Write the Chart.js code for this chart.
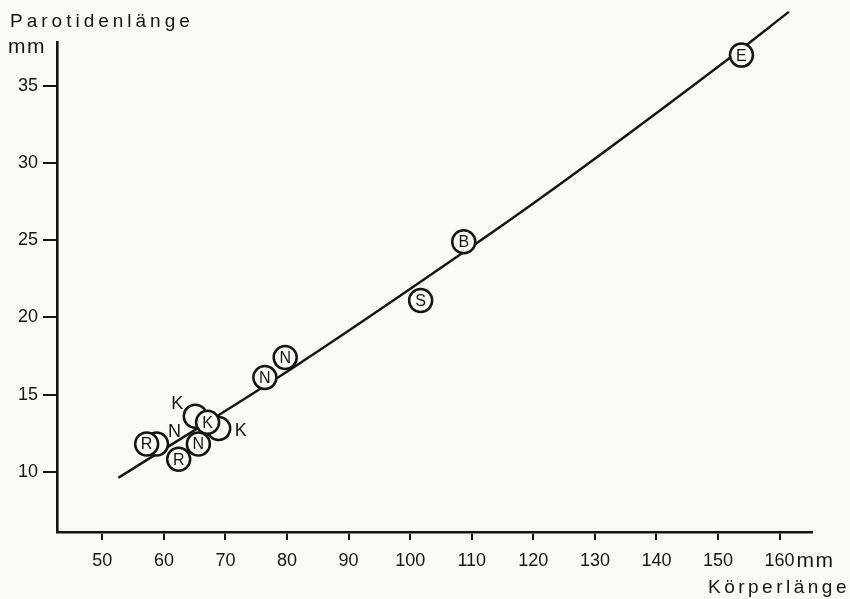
<!DOCTYPE html>
<html>
<head>
<meta charset="utf-8">
<script src="https://cdn.jsdelivr.net/npm/chart.js@4/dist/chart.umd.min.js"></script>
<style>
  html, body { margin: 0; padding: 0; background: #fafaf7; }
  #wrap { width: 850px; height: 599px; position: relative; }
</style>
</head>
<body>
<div id="wrap"><canvas id="chart" width="850" height="599"></canvas></div>
<script>
// tick values on the axes
let xTicks = [50, 60, 70, 80, 90, 100, 110, 120, 130, 140, 150, 160];
let yTicks = [10, 15, 20, 25, 30, 35];

// measured animals (Körperlänge, Parotidenlänge) and their letter
let pointX = [153.8, 108.7, 101.7, 79.7, 76.4, 65.1, 68.9, 67.1, 65.6, 62.4, 58.8, 57.2];
let pointY = [37.0, 24.9, 21.1, 17.4, 16.1, 13.6, 12.8, 13.2, 11.8, 10.8, 11.8, 11.8];
let pointLetter = ["E", "B", "S", "N", "N", "K", "K", "K", "N", "R", "N", "R"];
// where the letter sits: inside the ring or beside it
let letterPlace = ["in", "in", "in", "in", "in", "nw", "e", "in", "in", "in", "ne", "in"];

// regression curve
let curveX = [52.6, 81.6, 108.6, 121.1, 151.5, 161.5];
let curveY = [9.6, 16.9, 24.2, 27.7, 36.7, 39.8];

let ink = "#141414";
let paper = "#fafaf7";

function pairs(xs, ys) {
  let out = [];
  for (let i = 0; i < xs.length; i++) {
    out.push({ x: xs[i], y: ys[i] });
  }
  return out;
}

// draws the letters and the free-standing axis texts
let letterPlugin = {
  id: "letters",
  afterDatasetsDraw(chart) {
    let ctx = chart.ctx;
    let meta = chart.getDatasetMeta(1);
    ctx.save();
    ctx.fillStyle = ink;
    ctx.textAlign = "center";
    ctx.textBaseline = "middle";
    meta.data.forEach((el, i) => {
      let dx = 0, dy = 0;
      if (letterPlace[i] === "nw") { dx = -18; dy = -13; }
      if (letterPlace[i] === "ne") { dx = 18; dy = -13; }
      if (letterPlace[i] === "e") { dx = 22; dy = 2; }
      ctx.font = letterPlace[i] === "in" ? "16px 'Liberation Sans'" : "18px 'Liberation Sans'";
      ctx.fillText(pointLetter[i], el.x + dx, el.y + dy + 1);
    });
    ctx.restore();
  },
  afterDraw(chart) {
    let ctx = chart.ctx;
    let xs = chart.scales.x;
    ctx.save();
    ctx.fillStyle = ink;
    ctx.textBaseline = "middle";
    ctx.textAlign = "left";
    ctx.font = "19px 'Liberation Sans'";
    ctx.letterSpacing = "4px";
    ctx.fillText("Parotidenlänge", 10, 22);
    // the unit is set wider than the rest
    ctx.font = "21px 'Liberation Sans'";
    ctx.letterSpacing = "1.5px";
    ctx.fillText("mm", 8, 47);
    ctx.fillText("mm", xs.getPixelForValue(160) + 17, 561);
    ctx.font = "19px 'Liberation Sans'";
    ctx.letterSpacing = "3.5px";
    ctx.textAlign = "right";
    ctx.fillText("Körperlänge", 850, 588);
    ctx.restore();
  }
};

let ctx = document.getElementById("chart").getContext("2d");
let chart = new Chart(ctx, {
  type: "scatter",
  data: {
    datasets: [
      {
        label: "Kurve",
        data: pairs(curveX, curveY),
        showLine: true,
        borderColor: ink,
        borderWidth: 2.4,
        pointRadius: 0,
        cubicInterpolationMode: "monotone",
        clip: false,
        order: 2
      },
      {
        label: "Tiere",
        data: pairs(pointX, pointY),
        showLine: false,
        pointRadius: 11.5,
        pointBorderWidth: 2.5,
        pointBorderColor: ink,
        pointBackgroundColor: paper,
        order: 1
      }
    ]
  },
  options: {
    responsive: false,
    animation: false,
    layout: { padding: { top: 42, right: 38, bottom: 0, left: 0 } },
    plugins: {
      legend: { display: false },
      tooltip: { enabled: false }
    },
    scales: {
      x: {
        type: "linear",
        min: 42.64,
        max: 165.26,
        afterBuildTicks: s => { s.ticks = xTicks.map(v => ({ value: v })); },
        afterFit: s => { s.height = 67; },
        grid: { drawOnChartArea: false, drawTicks: true, tickLength: 8, color: ink, lineWidth: 2 },
        border: { display: true, color: ink, width: 2.6 },
        ticks: { color: ink, font: { family: "'Liberation Sans'", size: 18 }, padding: 10, maxRotation: 0, autoSkip: false }
      },
      y: {
        type: "linear",
        min: 6.09,
        max: 37.85,
        afterBuildTicks: s => { s.ticks = yTicks.map(v => ({ value: v })); },
        afterFit: s => { s.width = 57; },
        grid: { drawOnChartArea: false, drawTicks: true, tickLength: 14, color: ink, lineWidth: 2 },
        border: { display: true, color: ink, width: 2.6 },
        ticks: { color: ink, font: { family: "'Liberation Sans'", size: 18 }, padding: 5, autoSkip: false }
      }
    }
  },
  plugins: [letterPlugin]
});
</script>
</body>
</html>
